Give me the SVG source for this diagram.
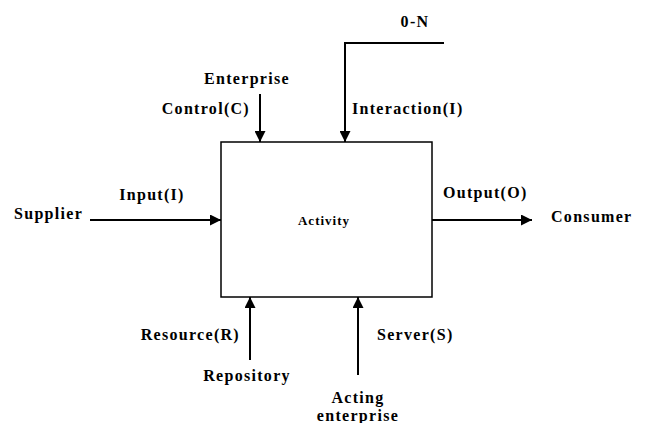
<svg xmlns="http://www.w3.org/2000/svg" width="651" height="423" viewBox="0 0 651 423">
  <defs>
    <marker id="arrow" viewBox="0 0 10 10" refX="10" refY="5" markerWidth="11" markerHeight="11" markerUnits="userSpaceOnUse" orient="auto">
      <path d="M0,0 L10,5 L0,10 z" fill="#000"/>
    </marker>
    <style>
      .lbl { font-family: "Liberation Serif", "Times New Roman", serif; font-size: 16px; font-weight: bold; letter-spacing: 1.3px; fill: #000; }
      .small { font-family: "Liberation Serif", "Times New Roman", serif; font-size: 13px; font-weight: bold; fill: #000; letter-spacing: 1px; }
      .wire { stroke: #000; stroke-width: 2; fill: none; }
      .edge { stroke: #000; stroke-width: 1.5; fill: none; }
    </style>
  </defs>
  <rect width="651" height="423" fill="#fff"/>

  <g id="activity">
    <rect x="221" y="142" width="211" height="155" class="edge"/>
    <text class="small" x="324" y="225" text-anchor="middle">Activity</text>
  </g>

  <g id="supplier"><text class="lbl" x="14" y="219">Supplier</text></g>
  <g id="consumer"><text class="lbl" x="551" y="222">Consumer</text></g>
  <g id="enterprise"><text class="lbl" x="247" y="84" text-anchor="middle">Enterprise</text></g>
  <g id="zero-n"><text class="lbl" x="415" y="27" text-anchor="middle">0-N</text></g>
  <g id="repository"><text class="lbl" x="247" y="381" text-anchor="middle">Repository</text></g>
  <g id="acting-enterprise">
    <text class="lbl" x="358" y="403" text-anchor="middle">Acting</text>
    <text class="lbl" x="358" y="421" text-anchor="middle">enterprise</text>
  </g>

  <g id="connectors">
    <line class="wire" x1="90" y1="220" x2="221" y2="220" marker-end="url(#arrow)"/>
    <text class="lbl" x="152" y="200" text-anchor="middle">Input(I)</text>

    <line class="wire" x1="432" y1="220" x2="532" y2="220" marker-end="url(#arrow)"/>
    <text class="lbl" x="443" y="198">Output(O)</text>

    <line class="wire" x1="260" y1="94" x2="260" y2="142" marker-end="url(#arrow)"/>
    <text class="lbl" x="250" y="114" text-anchor="end">Control(C)</text>

    <polyline class="wire" points="444,43 345,43 345,142" marker-end="url(#arrow)"/>
    <text class="lbl" x="352" y="114">Interaction(I)</text>

    <line class="wire" x1="250" y1="360" x2="250" y2="297" marker-end="url(#arrow)"/>
    <text class="lbl" x="240" y="340" text-anchor="end">Resource(R)</text>

    <line class="wire" x1="358" y1="375" x2="358" y2="297" marker-end="url(#arrow)"/>
    <text class="lbl" x="377" y="340">Server(S)</text>
  </g>
</svg>
